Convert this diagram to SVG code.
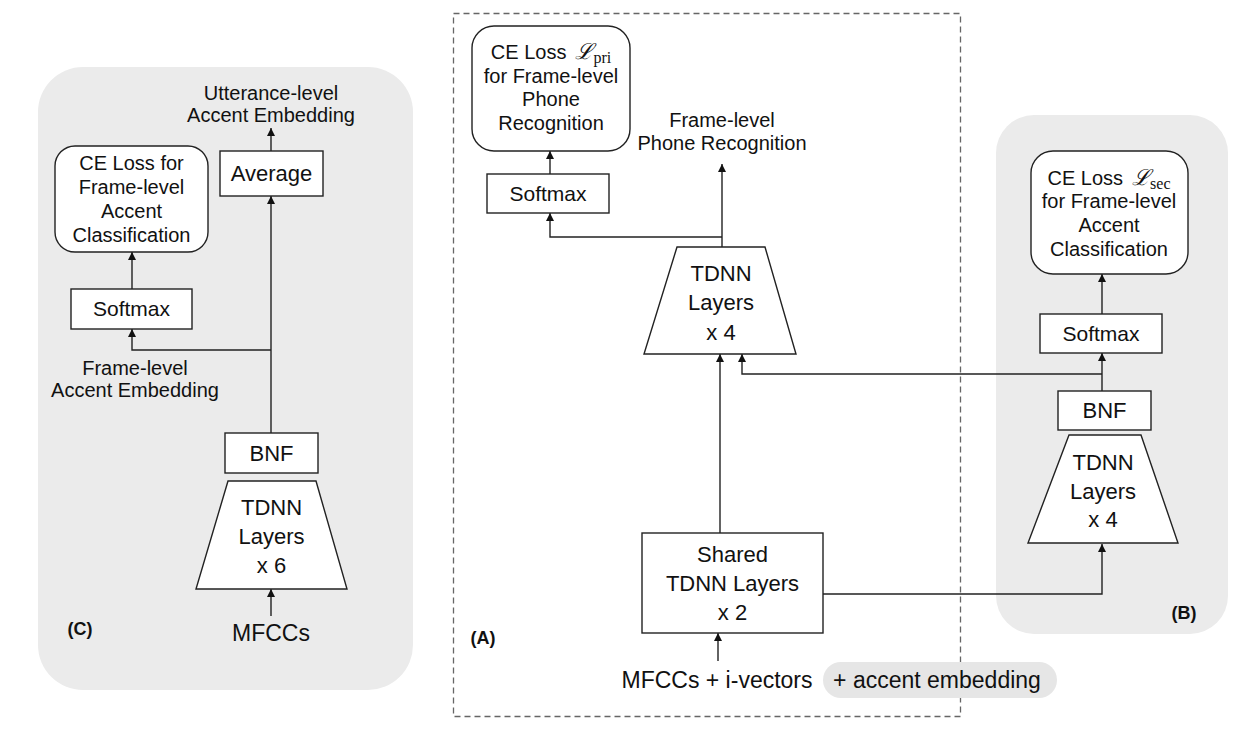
<svg xmlns="http://www.w3.org/2000/svg" width="1252" height="743" viewBox="0 0 1252 743">
<defs>
<style>
text{font-family:"Liberation Sans","Helvetica",Arial,sans-serif;fill:#111;text-anchor:middle}
.s20{font-size:20px}.s21{font-size:21px}.s22{font-size:22px}.s23{font-size:23px}
.lbl{font-size:18px;font-weight:bold}
.box{fill:#fff;stroke:#222;stroke-width:1.4}
.panel{fill:#ebebeb;stroke:none}
.conn{fill:none;stroke:#222;stroke-width:1.4}
.math{font-family:"DejaVu Serif","Liberation Serif",serif;font-style:italic}
.sub{font-family:"Liberation Serif","DejaVu Serif",serif;font-size:16px}
</style>
<marker id="ah" viewBox="0 0 8 10" refX="8" refY="5" markerWidth="8" markerHeight="10" markerUnits="userSpaceOnUse" orient="auto">
<path d="M0,1 L8,5 L0,9 Z" fill="#111"/>
</marker>
</defs>

<!-- panels -->
<g id="panelC"><rect class="panel" x="38" y="67" width="375" height="623" rx="45"/></g>
<g id="panelB"><rect class="panel" x="996" y="115" width="232" height="519" rx="38"/></g>
<g id="panelA"><rect x="453.5" y="13.5" width="507" height="703" fill="none" stroke="#666" stroke-width="1.3" stroke-dasharray="6 4"/></g>

<!-- connectors -->
<g id="connectors">
<!-- C -->
<line class="conn" x1="271" y1="151" x2="271" y2="128" marker-end="url(#ah)"/>
<line class="conn" x1="132" y1="289" x2="132" y2="252" marker-end="url(#ah)"/>
<line class="conn" x1="271" y1="433" x2="271" y2="196" marker-end="url(#ah)"/>
<path class="conn" d="M271,350 H132 V329" marker-end="url(#ah)"/>
<line class="conn" x1="271" y1="616" x2="271" y2="589" marker-end="url(#ah)"/>
<!-- A -->
<line class="conn" x1="550" y1="174" x2="550" y2="151" marker-end="url(#ah)"/>
<line class="conn" x1="722" y1="247" x2="722" y2="164" marker-end="url(#ah)"/>
<path class="conn" d="M722,237 H550 V213" marker-end="url(#ah)"/>
<line class="conn" x1="720" y1="533" x2="720" y2="354" marker-end="url(#ah)"/>
<path class="conn" d="M1102,374 H742 V354" marker-end="url(#ah)"/>
<path class="conn" d="M823,594 H1102 V544" marker-end="url(#ah)"/>
<line class="conn" x1="718" y1="661" x2="718" y2="633" marker-end="url(#ah)"/>
<!-- B -->
<line class="conn" x1="1102" y1="314" x2="1102" y2="274" marker-end="url(#ah)"/>
<line class="conn" x1="1102" y1="391" x2="1102" y2="353" marker-end="url(#ah)"/>
</g>

<!-- Panel C nodes -->
<g id="c-utt-label">
<text class="s20" x="271" y="100">Utterance-level</text>
<text class="s20" x="271" y="122">Accent Embedding</text>
</g>
<g id="c-average">
<rect class="box" x="220" y="151" width="103" height="45"/>
<text class="s22" x="271.5" y="181">Average</text>
</g>
<g id="c-ce-loss">
<rect class="box" x="55" y="146" width="153" height="106" rx="20"/>
<text class="s20" x="131.5" y="170">CE Loss for</text>
<text class="s20" x="131.5" y="194">Frame-level</text>
<text class="s20" x="131.5" y="218">Accent</text>
<text class="s20" x="131.5" y="242">Classification</text>
</g>
<g id="c-softmax">
<rect class="box" x="71" y="289" width="121" height="40"/>
<text class="s21" x="131.5" y="316">Softmax</text>
</g>
<g id="c-frame-label">
<text class="s20" x="135" y="375">Frame-level</text>
<text class="s20" x="135" y="397">Accent Embedding</text>
</g>
<g id="c-bnf">
<rect class="box" x="225" y="433" width="93" height="40"/>
<text class="s22" x="271.5" y="461">BNF</text>
</g>
<g id="c-tdnn">
<polygon class="box" points="228,481 316,481 347,589 196,589"/>
<text class="s22" x="271.5" y="515">TDNN</text>
<text class="s22" x="271.5" y="544">Layers</text>
<text class="s22" x="271.5" y="573">x 6</text>
</g>
<g id="c-mfcc"><text class="s23" x="271" y="641">MFCCs</text></g>
<g id="c-label"><text class="lbl" x="80" y="635">(C)</text></g>

<!-- Panel A nodes -->
<g id="a-ce-loss">
<rect class="box" x="472" y="26" width="158" height="125" rx="22"/>
<text class="s20" x="551" y="59">CE Loss<tspan class="math" font-size="22" dx="9">ℒ</tspan><tspan class="sub" dy="4">pri</tspan></text>
<text class="s20" x="551" y="83">for Frame-level</text>
<text class="s20" x="551" y="106">Phone</text>
<text class="s20" x="551" y="130">Recognition</text>
</g>
<g id="a-softmax">
<rect class="box" x="487" y="174" width="122" height="39"/>
<text class="s21" x="548" y="201">Softmax</text>
</g>
<g id="a-out-label">
<text class="s20" x="722" y="127">Frame-level</text>
<text class="s20" x="722" y="150">Phone Recognition</text>
</g>
<g id="a-tdnn">
<polygon class="box" points="677,247 765,247 796,354 644,354"/>
<text class="s22" x="721" y="281">TDNN</text>
<text class="s22" x="721" y="310">Layers</text>
<text class="s22" x="721" y="340">x 4</text>
</g>
<g id="a-shared">
<rect class="box" x="642" y="533" width="181" height="100"/>
<text class="s22" x="732.5" y="562">Shared</text>
<text class="s22" x="732.5" y="591">TDNN Layers</text>
<text class="s22" x="732.5" y="620">x 2</text>
</g>
<g id="a-input">
<rect x="823" y="662" width="234" height="36" rx="18" fill="#e6e6e6"/>
<text class="s23" x="717" y="688">MFCCs + i-vectors</text>
<text class="s23" x="937" y="688">+ accent embedding</text>
</g>
<g id="a-label"><text class="lbl" x="483" y="644">(A)</text></g>

<!-- Panel B nodes -->
<g id="b-ce-loss">
<rect class="box" x="1031" y="151" width="157" height="123" rx="22"/>
<text class="s20" x="1109" y="185">CE Loss<tspan class="math" font-size="22" dx="9">ℒ</tspan><tspan class="sub" dy="4">sec</tspan></text>
<text class="s20" x="1109" y="208">for Frame-level</text>
<text class="s20" x="1109" y="232">Accent</text>
<text class="s20" x="1109" y="256">Classification</text>
</g>
<g id="b-softmax">
<rect class="box" x="1040" y="314" width="122" height="39"/>
<text class="s21" x="1101" y="341">Softmax</text>
</g>
<g id="b-bnf">
<rect class="box" x="1058" y="391" width="93" height="39"/>
<text class="s22" x="1104.5" y="418">BNF</text>
</g>
<g id="b-tdnn">
<polygon class="box" points="1069,435 1141,435 1178,543 1028,543"/>
<text class="s22" x="1103" y="470">TDNN</text>
<text class="s22" x="1103" y="499">Layers</text>
<text class="s22" x="1103" y="527">x 4</text>
</g>
<g id="b-label"><text class="lbl" x="1184" y="619">(B)</text></g>
</svg>
